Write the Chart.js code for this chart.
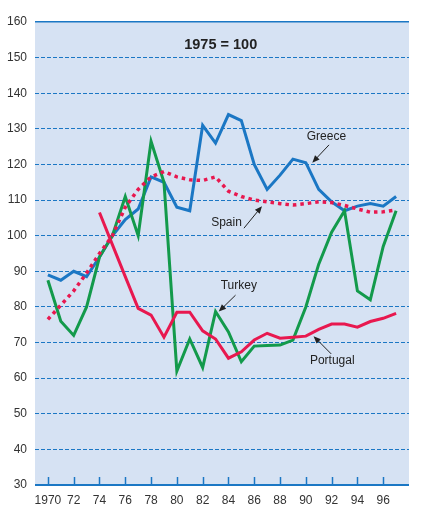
<!DOCTYPE html>
<html>
<head>
<meta charset="utf-8">
<script src="https://cdn.jsdelivr.net/npm/chart.js@4/dist/chart.umd.min.js"></script>
<style>
  body { margin: 0; background: #fff; }
  #wrap { width: 423px; height: 513px; }
</style>
</head>
<body>
<div id="wrap"><canvas id="grafica"></canvas></div>
<script>
const years = [1970, 1971, 1972, 1973, 1974, 1975, 1976, 1977, 1978, 1979, 1980, 1981, 1982, 1983,
  1984, 1985, 1986, 1987, 1988, 1989, 1990, 1991, 1992, 1993, 1994, 1995, 1996, 1997];
const greece = [89, 87.5, 90, 88.5, 94, 100, 104.5, 107.5, 116.5, 115, 108, 107, 131, 126,
  134, 132.3, 120, 113, 117, 121.5, 120.5, 113, 109.5, 107, 108.3, 109, 108.3, 111];
const spain = [76.5, 80.5, 84.5, 89.5, 95, 100, 108, 113, 116.5, 118, 116.5, 115.7, 115.5, 116.5,
  112.5, 111, 110, 109.5, 109, 108.6, 109, 109.5, 109.3, 108.5, 107.5, 106.6, 106.7, 107.2];
const turkey = [87.5, 76, 72, 80, 94, 100, 111, 100, 126.5, 115, 62, 71, 63, 78.7,
  73, 64.6, 69, 69.2, 69.3, 70.7, 80, 92, 101, 107, 84.5, 82, 97, 107];
const portugal = [null, null, null, null, 106.5, 97.5, 88.5, 79.6, 77.7, 71.5, 78.5, 78.5, 73.3, 71,
  65.6, 67.4, 70.7, 72.6, 71.2, 71.5, 71.8, 73.7, 75.2, 75.2, 74.3, 75.9, 76.8, 78.2];
const xTicks = [1970, 1972, 1974, 1976, 1978, 1980, 1982, 1984, 1986, 1988, 1990, 1992, 1994, 1996];
const yTicks = [30, 40, 50, 60, 70, 80, 90, 100, 110, 120, 130, 140, 150, 160];

// labels: text, label position, arrow start, arrow end (in data units)
const notas = [
  { t: 'Greece', x: 1991.6, y: 127.7, ax: 1991.8, ay: 125.5, bx: 1990.5, by: 120.5 },
  { t: 'Spain', x: 1983.85, y: 103.6, ax: 1985.2, ay: 102.1, bx: 1986.6, by: 108.3 },
  { t: 'Turkey', x: 1984.8, y: 85.9, ax: 1984.55, ay: 83.3, bx: 1983.25, by: 78.7 },
  { t: 'Portugal', x: 1992.05, y: 64.8, ax: 1991.97, ay: 66.8, bx: 1990.6, by: 71.8 }
];

const azul = '#1b77c4';
const verde = '#139a4b';
const rojo = '#e8184f';
const fuente = '"Liberation Sans", Arial, sans-serif';

const toXY = arr => arr.map((v, i) => ({ x: years[i], y: v }));

const fondo = {
  id: 'fondo',
  beforeDraw(chart) {
    const { ctx, chartArea: a } = chart;
    ctx.save();
    ctx.fillStyle = '#d6e2f3';
    ctx.fillRect(a.left, a.top, a.right - a.left, a.bottom - a.top);
    ctx.restore();
  }
};

const extras = {
  id: 'extras',
  afterDatasetsDraw(chart) {
    const { ctx, chartArea: a } = chart;
    const xs = chart.scales.x, ys = chart.scales.y;
    ctx.save();
    // tick marks inside the plot
    ctx.strokeStyle = azul;
    ctx.lineWidth = 1.5;
    xTicks.forEach(t => {
      const px = Math.round(xs.getPixelForValue(t)) + 0.5;
      ctx.beginPath();
      ctx.moveTo(px, a.bottom);
      ctx.lineTo(px, a.bottom - 8);
      ctx.stroke();
    });
    // bottom axis line
    ctx.lineWidth = 2;
    ctx.beginPath();
    ctx.moveTo(a.left, a.bottom);
    ctx.lineTo(a.right, a.bottom);
    ctx.stroke();

    ctx.fillStyle = '#222';
    ctx.font = 'bold 14.5px ' + fuente;
    ctx.textAlign = 'center';
    ctx.textBaseline = 'middle';
    ctx.fillText('1975 = 100', xs.getPixelForValue(1983.4), ys.getPixelForValue(153.5));

    ctx.font = '12px ' + fuente;
    ctx.strokeStyle = '#222';
    ctx.lineWidth = 1;
    notas.forEach(n => {
      ctx.fillText(n.t, xs.getPixelForValue(n.x), ys.getPixelForValue(n.y));
      const x1 = xs.getPixelForValue(n.ax), y1 = ys.getPixelForValue(n.ay);
      const x2 = xs.getPixelForValue(n.bx), y2 = ys.getPixelForValue(n.by);
      const ang = Math.atan2(y2 - y1, x2 - x1);
      ctx.beginPath();
      ctx.moveTo(x1, y1);
      ctx.lineTo(x2 - 4 * Math.cos(ang), y2 - 4 * Math.sin(ang));
      ctx.stroke();
      ctx.beginPath();
      ctx.moveTo(x2, y2);
      ctx.lineTo(x2 - 8 * Math.cos(ang - 0.4), y2 - 8 * Math.sin(ang - 0.4));
      ctx.lineTo(x2 - 8 * Math.cos(ang + 0.4), y2 - 8 * Math.sin(ang + 0.4));
      ctx.closePath();
      ctx.fill();
    });
    ctx.restore();
  }
};

const ctx = document.getElementById('grafica').getContext('2d');

const myChart = new Chart(ctx, {
  type: 'line',
  data: {
    datasets: [
      { label: 'Portugal', data: toXY(portugal), borderColor: rojo, borderWidth: 3, spanGaps: false },
      { label: 'Spain', data: toXY(spain), borderColor: rojo, borderWidth: 3.5, borderDash: [3.5, 4], borderCapStyle: 'butt' },
      { label: 'Turkey', data: toXY(turkey), borderColor: verde, borderWidth: 3 },
      { label: 'Greece', data: toXY(greece), borderColor: azul, borderWidth: 3 }
    ]
  },
  options: {
    responsive: true,
    maintainAspectRatio: false,
    animation: false,
    events: [],
    elements: {
      point: { radius: 0 },
      line: { tension: 0, borderJoinStyle: 'miter', fill: false }
    },
    layout: { padding: { left: 7, right: 14, top: 22, bottom: 0 } },
    plugins: { legend: { display: false }, tooltip: { enabled: false } },
    scales: {
      x: {
        type: 'linear',
        min: 1969,
        max: 1998,
        afterBuildTicks: s => { s.ticks = xTicks.map(v => ({ value: v })); },
        afterFit: s => { s.height = 28; },
        grid: { display: false, drawTicks: false },
        border: { display: false },
        ticks: {
          padding: 8,
          color: '#333',
          font: { family: fuente, size: 12 },
          maxRotation: 0,
          autoSkip: false,
          callback: v => v === 1970 ? '1970' : String(v).slice(2)
        }
      },
      y: {
        min: 30,
        max: 160,
        afterBuildTicks: s => { s.ticks = yTicks.map(v => ({ value: v })); },
        afterFit: s => { s.width = 28; },
        grid: {
          drawTicks: false,
          color: c => c.tick && c.tick.value === 30 ? 'rgba(0,0,0,0)' : azul,
          lineWidth: c => c.tick && c.tick.value === 160 ? 1.5 : 1
        },
        border: { display: false, dash: c => c.tick && c.tick.value === 160 ? [] : [4, 2] },
        ticks: {
          padding: 8,
          color: '#333',
          font: { family: fuente, size: 12 }
        }
      }
    }
  },
  plugins: [fondo, extras]
});
</script>
</body>
</html>
